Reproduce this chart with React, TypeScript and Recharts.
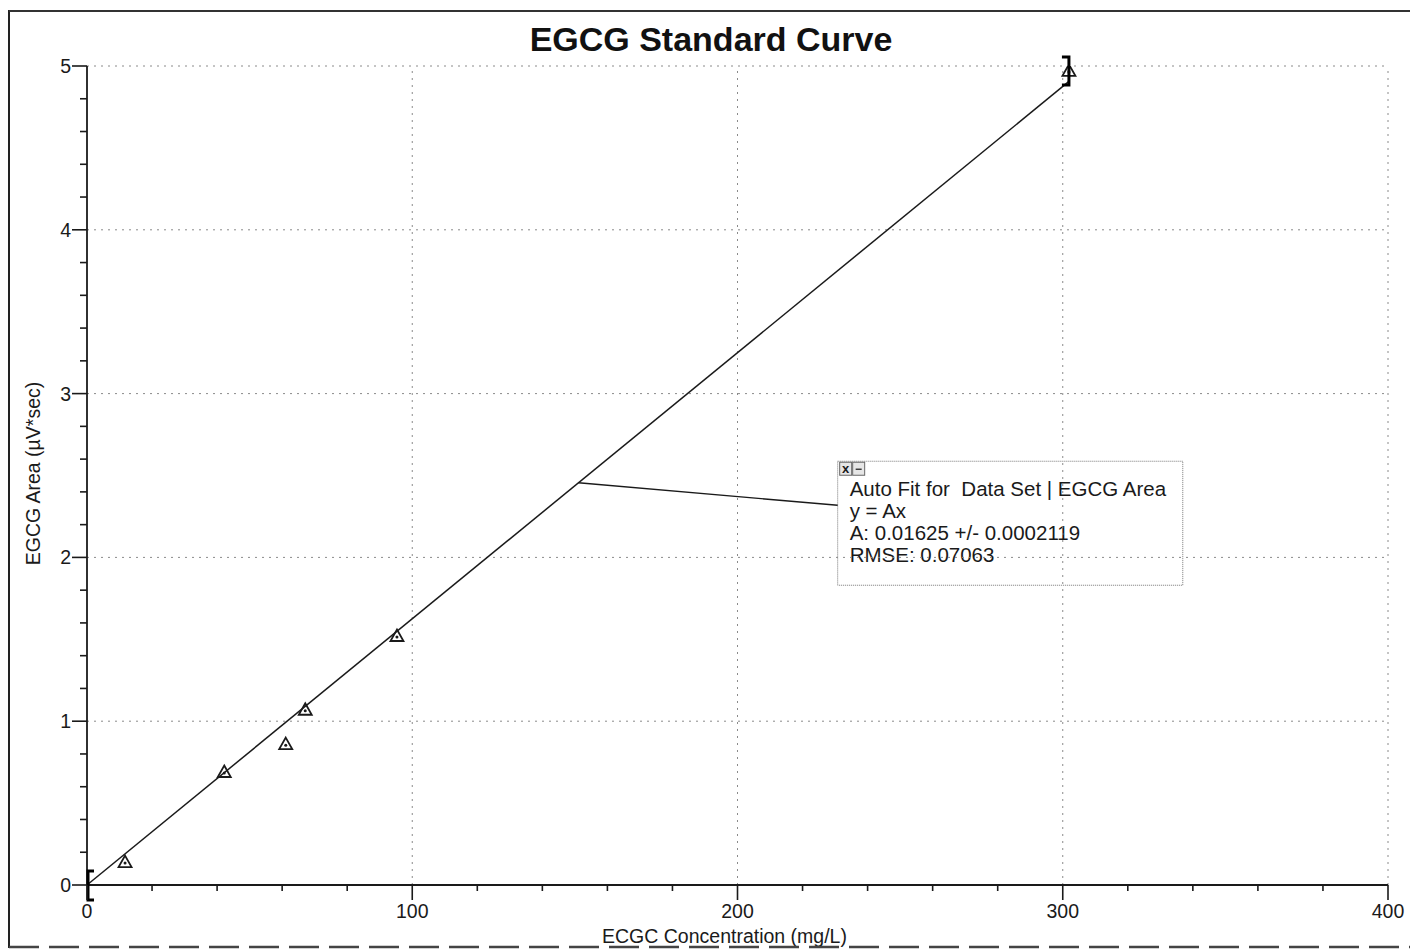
import React from 'react';
import { ScatterChart, Scatter, XAxis, YAxis, ReferenceLine, ReferenceArea, ReferenceDot } from 'recharts';

// standards
const concentration = [11.7, 42.2, 61.1, 67.1, 95.3, 301.9];
const area = [0.14, 0.69, 0.86, 1.07, 1.52, 4.97];
const points = concentration.map((x, i) => ({ x, y: area[i] }));

// auto fit y = Ax
const slopeA = 0.01625;
const fitStart = 0;
const fitEnd = 301.9;
const fitExtendTo = 307.7;

const xGrid = [100, 200, 300, 400];
const yGrid = [1, 2, 3, 4, 5];
const xTicks = Array.from({ length: 21 }, (_, i) => i * 20);
const yTicks = Array.from({ length: 26 }, (_, i) => Math.round(i * 2) / 10);

const annotationLines = ['Auto Fit for  Data Set | EGCG Area', 'y = Ax', 'A: 0.01625 +/- 0.0002119', 'RMSE: 0.07063'];

const W = 1410;
const H = 950;
const ink = '#1a1a1a';
const font = '"Liberation Sans", Arial, sans-serif';

const XTick = ({ x, y, payload }: any) => {
  const v = payload.value;
  const major = Math.abs(v % 100) < 1e-6;
  return (
    <g>
      <line x1={x} x2={x} y1={y} y2={y + (major ? 15 : 6)} stroke={ink} strokeWidth={1.6} />
      {major && (
        <text x={x} y={y + 33} textAnchor="middle" fontSize={19.5} fontFamily={font} fill={ink}>{v}</text>
      )}
    </g>
  );
};

const YTick = ({ x, y, payload }: any) => {
  const v = payload.value;
  const major = Math.abs(v - Math.round(v)) < 1e-6;
  return (
    <g>
      <line x1={x} x2={x - (major ? 15 : 7)} y1={y} y2={y} stroke={ink} strokeWidth={1.6} />
      {major && (
        <text x={x - 16} y={y} dy="0.36em" textAnchor="end" fontSize={19.5} fontFamily={font} fill={ink}>{Math.round(v)}</text>
      )}
    </g>
  );
};

const Triangle = ({ cx, cy }: any) => (
  <g>
    <path d={`M${cx},${cy - 6.5} L${cx + 6.5},${cy + 5} L${cx - 6.5},${cy + 5} Z`} fill="none" stroke={ink} strokeWidth={1.8} />
    <circle cx={cx} cy={cy + 1} r={1.5} fill={ink} />
  </g>
);

const LeftBracket = ({ cx, cy }: any) => (
  <path d={`M${cx + 7},${cy - 14} L${cx + 1},${cy - 14} L${cx + 1},${cy + 15} L${cx + 7},${cy + 15}`} fill="none" stroke="#000" strokeWidth={3} />
);

const RightBracket = ({ cx, cy }: any) => (
  <path d={`M${cx - 7},${cy - 14} L${cx},${cy - 14} L${cx},${cy + 14} L${cx - 7},${cy + 14}`} fill="none" stroke="#000" strokeWidth={3} />
);

const AnnotationText = ({ viewBox }: any) => {
  const { x, y } = viewBox;
  return (
    <g fontFamily={font} fill={ink}>
      <rect x={x + 2} y={y + 1} width={12} height={13} fill="#e6e6e6" stroke="#666" strokeWidth={1} />
      <text x={x + 8} y={y + 12} fontSize={13} fontWeight="bold" textAnchor="middle">x</text>
      <rect x={x + 15} y={y + 1} width={12} height={13} fill="#e6e6e6" stroke="#666" strokeWidth={1} />
      <line x1={x + 18} x2={x + 24} y1={y + 8} y2={y + 8} stroke="#333" strokeWidth={1.4} />
      {annotationLines.map((t, i) => (
        <text key={i} x={x + 12} y={y + 35 + i * 22} fontSize={20.5} style={{ whiteSpace: 'pre' }}>{t}</text>
      ))}
    </g>
  );
};

const XTitle = ({ viewBox }: any) => (
  <text x={viewBox.x + viewBox.width / 2 - 13} y={viewBox.y + 58} textAnchor="middle" fontSize={19.5} fontFamily={font} fill={ink}>
    ECGC Concentration (mg/L)
  </text>
);

const YTitle = ({ viewBox }: any) => {
  const cx = viewBox.x + 33;
  const cy = viewBox.y + viewBox.height / 2 - 2;
  return (
    <text x={cx} y={cy} dy="0.36em" transform={`rotate(-90, ${cx}, ${cy})`} textAnchor="middle" fontSize={19.5} fontFamily={font} fill={ink}>
      EGCG Area (µV*sec)
    </text>
  );
};

export default function App() {
  const grid = { stroke: '#8a8a8a', strokeDasharray: '2 5', strokeWidth: 1 };
  return (
    <div style={{ position: 'absolute', left: 0, top: 0, width: W, height: H, background: '#fff' }}>
      <ScatterChart width={W} height={H} margin={{ top: 66, right: 22, bottom: 0, left: 0 }}>
        <XAxis
          dataKey="x"
          type="number"
          domain={[0, 400]}
          ticks={xTicks}
          interval={0}
          allowDataOverflow
          height={65}
          tickSize={0}
          tickMargin={0}
          tickLine={false}
          axisLine={{ stroke: ink, strokeWidth: 1.8 }}
          tick={<XTick />}
          label={{ content: <XTitle /> } as any}
        />
        <YAxis
          dataKey="y"
          type="number"
          domain={[0, 5]}
          ticks={yTicks}
          interval={0}
          allowDataOverflow
          width={87}
          tickSize={0}
          tickMargin={0}
          tickLine={false}
          axisLine={{ stroke: ink, strokeWidth: 1.8 }}
          tick={<YTick />}
          label={{ content: <YTitle /> } as any}
        />
        {xGrid.map((v) => (
          <ReferenceLine key={`gx${v}`} x={v} {...grid} />
        ))}
        {yGrid.map((v) => (
          <ReferenceLine key={`gy${v}`} y={v} {...grid} />
        ))}
        <ReferenceLine
          segment={[{ x: fitStart, y: fitStart * slopeA }, { x: fitEnd, y: fitEnd * slopeA }]}
          stroke={ink}
          strokeWidth={1.5}
        />
        <ReferenceLine
          segment={[{ x: fitEnd, y: fitEnd * slopeA }, { x: fitExtendTo, y: fitExtendTo * slopeA }]}
          stroke="#555"
          strokeWidth={1.2}
          strokeDasharray="2 3"
        />
        <ReferenceLine
          segment={[{ x: 151.1, y: 151.1 * slopeA }, { x: 230.8, y: 2.318 }]}
          stroke={ink}
          strokeWidth={1.4}
        />
        <ReferenceArea
          x1={230.8}
          x2={336.9}
          y1={1.83}
          y2={2.587}
          fill="#fff"
          fillOpacity={1}
          stroke="#777"
          strokeWidth={1}
          strokeDasharray="1 1"
          label={(p: any) => <AnnotationText viewBox={p.viewBox} />}
        />
        <Scatter data={points} shape={(p: any) => <Triangle cx={p.cx} cy={p.cy} />} isAnimationActive={false} />
        <ReferenceDot x={fitStart} y={0} ifOverflow="visible" shape={(p: any) => <LeftBracket cx={p.cx} cy={p.cy} />} />
        <ReferenceDot x={fitEnd} y={area[area.length - 1]} ifOverflow="visible" shape={(p: any) => <RightBracket cx={p.cx} cy={p.cy} />} />
      </ScatterChart>
      <svg width={W} height={H} style={{ position: 'absolute', left: 0, top: 0, pointerEvents: 'none' }}>
        <text x={711} y={51} textAnchor="middle" fontSize={34} fontWeight="bold" fontFamily={font} fill="#111">
          EGCG Standard Curve
        </text>
        <line x1={9} x2={9} y1={10} y2={948} stroke="#222" strokeWidth={2} />
        <line x1={9} x2={W} y1={11} y2={11} stroke="#333" strokeWidth={2} />
        <line x1={9} x2={W} y1={947} y2={947} stroke="#444" strokeWidth={2.5} strokeDasharray="30 10" />
      </svg>
    </div>
  );
}
